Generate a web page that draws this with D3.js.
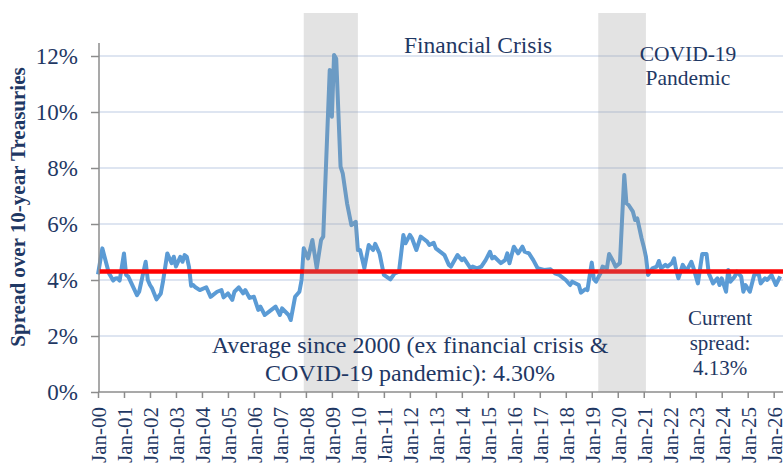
<!DOCTYPE html>
<html>
<head>
<meta charset="utf-8">
<style>
	body { margin: 0; background: #fff; }
	svg { display: block; font-family: "Liberation Serif", "Times New Roman", serif; }
</style>
<script src="https://cdn.jsdelivr.net/npm/d3@7"></script>
</head>
<body>
<div id="chart"></div>
<script>
// month of reading (YYYY-MM) and spread in %
var months = [
	"2000-01","2000-03","2000-06","2000-08","2000-09","2000-10","2000-11","2001-01","2001-02","2001-03",
	"2001-07","2001-08","2001-11","2001-12","2002-01","2002-02","2002-04","2002-06","2002-07","2002-09",
	"2002-11","2002-12","2003-01","2003-03","2003-04","2003-05","2003-06","2003-07","2003-08","2003-09",
	"2003-10","2003-12","2004-03","2004-05","2004-08","2004-10","2004-11","2005-01","2005-03","2005-04",
	"2005-06","2005-08","2005-09","2005-11","2006-01","2006-03","2006-04","2006-06","2006-08","2006-11",
	"2007-01","2007-02","2007-05","2007-06","2007-08","2007-10","2007-11","2007-12","2008-02","2008-04",
	"2008-06","2008-08","2008-09","2008-12","2009-01","2009-02","2009-03","2009-05","2009-06","2009-08",
	"2009-10","2009-12","2010-01","2010-02","2010-04","2010-06","2010-08","2010-09","2010-11","2011-01",
	"2011-04","2011-06","2011-08","2011-10","2011-11","2012-01","2012-02","2012-04","2012-06","2012-07",
	"2012-09","2012-10","2012-12","2013-01","2013-04","2013-05","2013-07","2013-08","2013-11","2014-01",
	"2014-02","2014-05","2014-06","2014-08","2014-10","2014-12","2015-02","2015-03","2015-04","2015-07",
	"2015-09","2015-10","2015-11","2016-01","2016-03","2016-05","2016-06","2016-08","2016-10","2016-12",
	"2017-03","2017-06","2017-08","2017-10","2017-12","2018-01","2018-03","2018-04","2018-07","2018-08",
	"2018-10","2018-11","2019-01","2019-02","2019-03","2019-05","2019-06","2019-08","2019-09","2019-11",
	"2019-12","2020-02","2020-04","2020-05","2020-06","2020-08","2020-09","2020-10","2020-12","2021-01",
	"2021-02","2021-03","2021-05","2021-07","2021-08","2021-09","2021-11","2021-12","2022-02","2022-03",
	"2022-04","2022-05","2022-07","2022-08","2022-09","2022-11","2022-12","2023-02","2023-04","2023-06",
	"2023-07","2023-09","2023-11","2023-12","2024-01","2024-03","2024-04","2024-05","2024-07","2024-08",
	"2024-10","2024-11","2024-12","2025-02","2025-04","2025-06","2025-07","2025-09","2025-10","2025-12",
	"2026-02","2026-04"
];
var spread = [
	4.20,5.13,4.25,3.98,4.05,4.06,3.98,4.95,4.18,4.12,
	3.46,3.58,4.65,4.00,3.82,3.70,3.31,3.52,3.94,4.95,
	4.60,4.83,4.48,4.83,4.65,4.89,4.83,4.48,3.79,3.82,
	3.74,3.64,3.74,3.40,3.58,3.64,3.38,3.52,3.29,3.58,
	3.74,3.52,3.64,3.36,3.40,2.93,3.05,2.75,2.87,3.05,
	2.75,2.99,2.75,2.57,3.40,3.58,4.00,5.13,4.77,5.43,
	4.42,5.43,5.55,11.50,9.83,12.04,11.90,8.05,7.81,6.74,
	5.96,6.08,5.07,5.07,4.42,5.25,5.07,5.29,4.95,4.18,
	4.02,4.24,4.30,5.61,5.31,5.61,5.49,5.07,5.55,5.49,
	5.37,5.25,5.33,5.13,4.95,4.89,4.54,4.48,4.89,4.71,
	4.77,4.42,4.48,4.42,4.48,4.71,5.01,4.77,4.83,4.60,
	4.71,4.95,4.60,5.19,4.95,5.19,5.01,4.95,4.71,4.42,
	4.36,4.38,4.24,4.18,4.06,4.00,3.82,3.94,3.82,3.55,
	3.67,3.64,4.62,4.03,3.94,4.24,4.48,4.42,4.93,4.65,
	4.48,4.60,7.75,6.74,6.68,6.44,6.14,6.20,5.49,5.19,
	4.83,4.18,4.42,4.48,4.68,4.42,4.54,4.48,4.60,4.77,
	4.36,4.06,4.54,4.42,4.36,4.65,4.42,3.88,4.93,4.93,
	4.24,3.88,4.06,3.82,4.06,3.58,4.36,3.94,4.12,4.30,
	4.12,3.58,3.82,3.58,4.18,4.24,3.88,4.06,4.00,4.18,
	3.82,4.13
];
var average = 4.30;
var current = 4.13;

var shadeStart = ["2007-12", "2019-04"];
var shadeEnd = ["2010-01", "2021-02"];

var xTickLabels = ["Jan-00","Jan-01","Jan-02","Jan-03","Jan-04","Jan-05","Jan-06","Jan-07","Jan-08",
	"Jan-09","Jan-10","Jan-11","Jan-12","Jan-13","Jan-14","Jan-15","Jan-16","Jan-17","Jan-18",
	"Jan-19","Jan-20","Jan-21","Jan-22","Jan-23","Jan-24","Jan-25","Jan-26"];
var yTicks = [0, 2, 4, 6, 8, 10, 12];
var yTickLabels = ["0%","2%","4%","6%","8%","10%","12%"];

// month index since Jan 2000
function monthIndex(s) {
	var p = s.split("-");
	return (+p[0] - 2000) * 12 + (+p[1] - 1);
}

var width = 783, height = 471;
var textColor = "#1f3864";

var svg = d3.select("#chart").append("svg")
	.attr("width", width)
	.attr("height", height);

var x = d3.scaleLinear().domain([0, 316.3]).range([98, 783]);
var y = d3.scaleLinear().domain([0, 12]).range([392, 56]);

var data = months.map(function(m, i) { return { m: monthIndex(m), v: spread[i] }; });

// gridlines
svg.append("g").selectAll("line")
	.data(yTicks.slice(1))
	.enter().append("line")
	.attr("x1", 99).attr("x2", width)
	.attr("y1", function(d) { return y(d); })
	.attr("y2", function(d) { return y(d); })
	.style("stroke", "#d3ddec")
	.style("stroke-width", 1.5);

// spread line
var line = d3.line()
	.x(function(d) { return x(d.m); })
	.y(function(d) { return y(d.v); });

svg.append("path")
	.datum(data)
	.attr("d", line)
	.style("fill", "none")
	.style("stroke", "#5b9bd5")
	.style("stroke-width", 4)
	.style("stroke-linejoin", "round");

// average line
svg.append("line")
	.attr("x1", 99).attr("x2", width)
	.attr("y1", y(average)).attr("y2", y(average))
	.style("stroke", "#ff0000")
	.style("stroke-width", 4.5);

// crisis shading, laid over the lines
svg.append("g").selectAll("rect")
	.data(shadeStart)
	.enter().append("rect")
	.attr("x", function(d) { return x(monthIndex(d)); })
	.attr("width", function(d, i) { return x(monthIndex(shadeEnd[i])) - x(monthIndex(d)); })
	.attr("y", 13)
	.attr("height", y(0) - 13)
	.style("fill", "#9a9a9a")
	.style("opacity", 0.28);

// y axis
var yAxis = d3.axisLeft(y)
	.tickValues(yTicks)
	.tickFormat(function(d, i) { return yTickLabels[i]; })
	.tickSize(8)
	.tickSizeOuter(0)
	.tickPadding(13);

var gy = svg.append("g").attr("transform", "translate(99,0)").call(yAxis);
gy.select(".domain").remove();
gy.append("line").attr("x1", 0).attr("x2", 0).attr("y1", 43).attr("y2", 392);
gy.selectAll("line").style("stroke", "#8c8c8c").style("stroke-width", 1.5);
gy.selectAll("text")
	.style("font-family", "Liberation Serif")
	.style("font-size", "23px")
	.style("fill", textColor);

// x axis
var xAxis = d3.axisBottom(x)
	.tickValues(xTickLabels.map(function(d, i) { return i * 12; }))
	.tickFormat(function(d, i) { return xTickLabels[i]; })
	.tickSize(6)
	.tickSizeOuter(0);

var gx = svg.append("g").attr("transform", "translate(0,392)").call(xAxis);
gx.select(".domain").remove();
gx.append("line").attr("x1", 98).attr("x2", width).attr("y1", 0).attr("y2", 0);
gx.selectAll("line").style("stroke", "#8c8c8c").style("stroke-width", 1.5);
gx.selectAll("text")
	.attr("transform", "rotate(-90)")
	.attr("x", -15)
	.attr("y", 0)
	.attr("dx", 0)
	.attr("dy", "0.35em")
	.style("text-anchor", "end")
	.style("font-family", "Liberation Serif")
	.style("font-size", "21px")
	.style("fill", textColor);

// y axis title
svg.append("text")
	.attr("transform", "translate(25,207) rotate(-90)")
	.style("text-anchor", "middle")
	.style("font-size", "21px")
	.style("font-weight", "bold")
	.style("fill", textColor)
	.text("Spread over 10-year Treasuries");

// annotations
function note(lines, cx, y0, step, size) {
	var t = svg.append("text")
		.style("text-anchor", "middle")
		.style("font-size", size + "px")
		.style("fill", textColor);
	lines.forEach(function(s, i) {
		t.append("tspan").attr("x", cx).attr("y", y0 + i * step).text(s);
	});
}

note(["Financial Crisis"], 478, 53, 0, 23.5);
note(["COVID-19", "Pandemic"], 688, 61, 24, 21.5);
note(["Average since 2000 (ex financial crisis &", "COVID-19 pandemic): 4.30%"], 410, 353, 28, 24);
note(["Current", "spread:", current.toFixed(2) + "%"], 720, 325, 25, 21);
</script>
</body>
</html>
